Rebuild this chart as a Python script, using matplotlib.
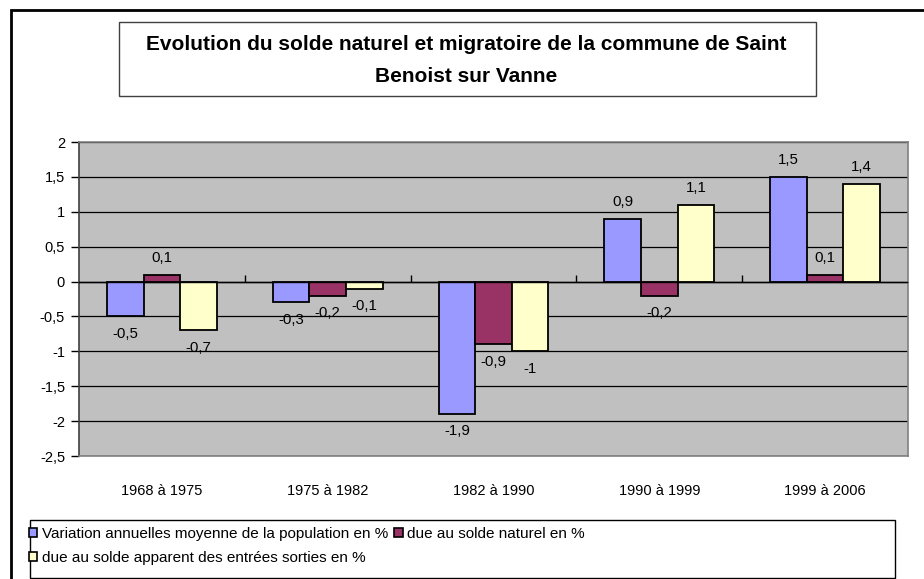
import matplotlib.pyplot as plt
from matplotlib.patches import Rectangle, Patch
from matplotlib.ticker import FuncFormatter
import numpy as np

plt.rcParams['font.family'] = ['Liberation Sans', 'DejaVu Sans']

periods = ['1968 à 1975', '1975 à 1982', '1982 à 1990', '1990 à 1999', '1999 à 2006']
variation = [-0.5, -0.3, -1.9, 0.9, 1.5]
solde_naturel = [0.1, -0.2, -0.9, -0.2, 0.1]
solde_migratoire = [-0.7, -0.1, -1.0, 1.1, 1.4]

series_names = ['Variation annuelles moyenne de la population en %',
                'due au solde naturel en %',
                'due au solde apparent des entrées sorties en %']
colors = ['#9999FF', '#993366', '#FFFFCC']

W, H = 924, 579
fig = plt.figure(figsize=(W / 100, H / 100), dpi=100)

def fx(px):
    return px / W

def fy(py):
    return 1 - py / H

# plot area in pixels: left 79, right 908, top 142, bottom 456
ax = fig.add_axes([fx(79), fy(456), fx(908) - fx(79), fy(142) - fy(456)])
ax.set_facecolor('#C0C0C0')
ax.set_xlim(-0.5, len(periods) - 0.5)
ax.set_ylim(-2.5, 2)
ax.set_yticks(np.arange(-2.5, 2.01, 0.5))
ax.yaxis.grid(True, color='black', linewidth=0.9)
ax.set_axisbelow(True)

def fmt(v, pos=None):
    if abs(v) < 1e-9:
        return '0'
    return ('%g' % round(v, 1)).replace('.', ',')

ax.yaxis.set_major_formatter(FuncFormatter(fmt))
ax.tick_params(axis='y', length=6, width=1, pad=4, labelsize=10.5, colors='black')

x = np.arange(len(periods))
bw = 0.221
all_series = [variation, solde_naturel, solde_migratoire]
for i, (vals, col) in enumerate(zip(all_series, colors)):
    bars = ax.bar(x + (i - 1) * bw, vals, bw, color=col, edgecolor='black',
                  linewidth=1.3, zorder=3)
    for b, v in zip(bars, vals):
        off = 12 if v >= 0 else -12.5
        ax.annotate(fmt(v), (b.get_x() + b.get_width() / 2, v),
                    xytext=(0, off), textcoords='offset points',
                    ha='center', va='center', fontsize=10.8)

ax.axhline(0, color='black', linewidth=1, zorder=4)

# category labels at the bottom
ax.set_xticks(x)
ax.set_xticklabels(periods)
ax.tick_params(axis='x', length=0, pad=20, labelsize=10.5)

# boundary ticks on the zero line
sec = ax.secondary_xaxis((0 - (-2.5)) / 4.5)
sec.set_xticks(np.arange(0.5, len(periods) - 0.5, 1))
sec.set_xticklabels([])
sec.tick_params(axis='x', direction='out', length=5, width=1, colors='black')
sec.spines['bottom'].set_visible(False)

for s in ['top', 'right', 'bottom']:
    ax.spines[s].set_color('#808080')
    ax.spines[s].set_linewidth(1.2)
ax.spines['left'].set_color('#404040')
ax.spines['left'].set_linewidth(1.2)

# outer chart border (only left/top inside the image)
fig.patches.append(Rectangle((fx(11), fy(600)), fx(940) - fx(11), fy(10) - fy(600),
                             transform=fig.transFigure, fill=False,
                             edgecolor='black', linewidth=2))

# title box
fig.patches.append(Rectangle((fx(119), fy(96)), fx(816) - fx(119), fy(22) - fy(96),
                             transform=fig.transFigure, fill=False,
                             edgecolor='#404040', linewidth=1))
fig.text(fx(466), fy(45), 'Evolution du solde naturel et migratoire de la commune de Saint',
         ha='center', va='center', fontsize=15, fontweight='bold')
fig.text(fx(466), fy(76), 'Benoist sur Vanne',
         ha='center', va='center', fontsize=15, fontweight='bold')

# legend box
fig.patches.append(Rectangle((fx(30), fy(578)), fx(895) - fx(30), fy(520) - fy(578),
                             transform=fig.transFigure, fill=False,
                             edgecolor='black', linewidth=1))
handles = [Patch(facecolor=c, edgecolor='black', linewidth=1.2, label=n)
           for c, n in zip(colors, series_names)]
order = [0, 2, 1]
fig.legend([handles[k] for k in order], [series_names[k] for k in order],
           loc='upper left', bbox_to_anchor=(fx(26), fy(524)), ncol=2,
           frameon=False, fontsize=11, handlelength=0.55, handleheight=0.55,
           handletextpad=0.3, columnspacing=0.4, labelspacing=0.62,
           borderpad=0.2, borderaxespad=0)

fig.savefig('out.png', dpi=100)
